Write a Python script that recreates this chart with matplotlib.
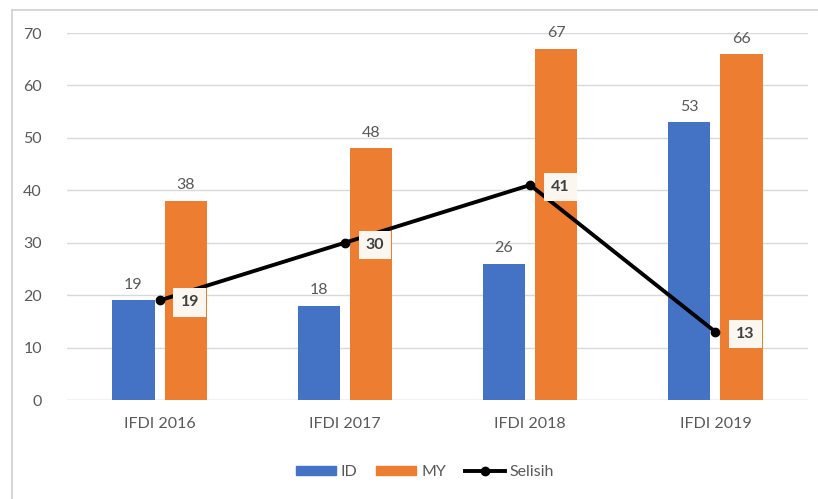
import matplotlib
matplotlib.use("Agg")
import matplotlib.pyplot as plt
from matplotlib.lines import Line2D
from matplotlib.patches import Patch
import numpy as np

categories = ["IFDI 2016", "IFDI 2017", "IFDI 2018", "IFDI 2019"]
id_vals = [19, 18, 26, 53]
my_vals = [38, 48, 67, 66]
selisih = [19, 30, 41, 13]
yticks = [0, 10, 20, 30, 40, 50, 60, 70]

plt.rcParams['font.family'] = ['Lato', 'DejaVu Sans']

fig = plt.figure(figsize=8.18 * np.array([1, 499 / 818]), dpi=100)
W, H = 818, 499
ax = fig.add_axes([67 / W, 1 - 400 / H, (808 - 67) / W, (400 - 33) / H])

fs = 11.5
x = np.arange(len(categories))
bw = 0.228
gap = 0.055
c_id = "#4472C4"
c_my = "#ED7D31"
ax.bar(x - (bw + gap) / 2, id_vals, bw, color=c_id, zorder=2)
ax.bar(x + (bw + gap) / 2, my_vals, bw, color=c_my, zorder=2)

for xi, v in zip(x, id_vals):
    ax.annotate(str(v), (xi - (bw + gap) / 2, v), xytext=(0, 6), textcoords="offset points",
                ha="center", va="bottom", fontsize=fs, color="#595959")
for xi, v in zip(x, my_vals):
    ax.annotate(str(v), (xi + (bw + gap) / 2, v), xytext=(0, 6), textcoords="offset points",
                ha="center", va="bottom", fontsize=fs, color="#595959")

ax.plot(x, selisih, color="black", lw=2.8, marker="o", ms=6, zorder=4)
for xi, v in zip(x, selisih):
    ax.annotate(str(v), (xi, v), xytext=(15, -1.5), textcoords="offset points",
                ha="left", va="center", fontsize=fs, fontweight="bold", color="#404040", zorder=5,
                bbox=dict(boxstyle="square,pad=0.45", fc="#FBF6F0", ec="none"))

ax.set_xlim(-0.5, len(categories) - 0.5)
ax.set_ylim(0, 70)
ax.set_yticks(yticks)
ax.set_xticks(x)
ax.set_xticklabels(categories)
ax.tick_params(axis="both", length=0, labelsize=fs, colors="#595959")
ax.tick_params(axis="y", pad=18)
ax.tick_params(axis="x", pad=12)
ax.grid(axis="y", color="#D9D9D9", lw=1, zorder=0)
for s in ax.spines.values():
    s.set_visible(False)
ax.axhline(0, color="#D9D9D9", lw=1, zorder=1)

handles = [Patch(color=c_id, label="ID"), Patch(color=c_my, label="MY"),
           Line2D([0], [0], color="black", lw=2.8, marker="o", ms=6, label="Selisih")]
fig.legend(handles=handles, loc="center", bbox_to_anchor=(425 / W, 1 - 472 / H), ncol=3,
           frameon=False, fontsize=fs, labelcolor="#595959", handlelength=2.5, handleheight=0.55,
           columnspacing=1.2, handletextpad=0.3)

# outer chart border
fig.add_artist(Line2D([12 / W, 12 / W], [0, 1 - 10 / H], color="#D0D0D0", lw=1.2, transform=fig.transFigure))
fig.add_artist(Line2D([12 / W, 1], [1 - 10 / H, 1 - 10 / H], color="#D0D0D0", lw=1.2, transform=fig.transFigure))

fig.savefig("out.png", dpi=100)
